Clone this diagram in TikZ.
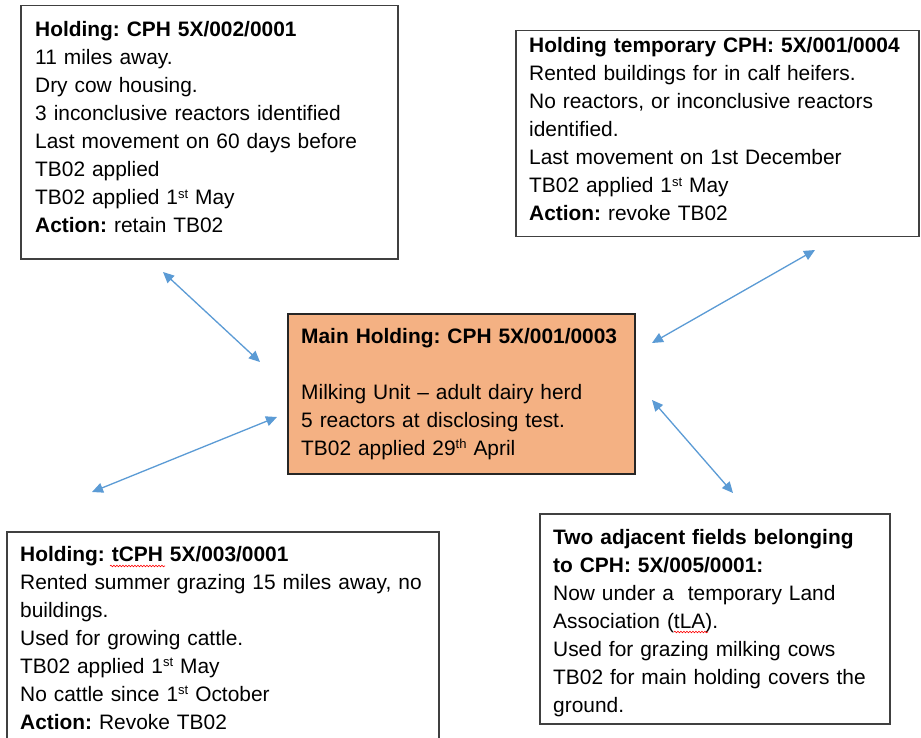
\documentclass[tikz,border=0pt]{standalone}
\usepackage{fontspec}
\setmainfont{Liberation Sans}
\usetikzlibrary{arrows.meta,decorations.pathmorphing}
\definecolor{boxline}{HTML}{404040}
\definecolor{mainfill}{HTML}{F4B183}
\definecolor{arrowblue}{HTML}{5B9BD5}
\newcommand{\sups}[1]{\raisebox{0.55ex}{\fontsize{13}{13}\selectfont #1}}
\tikzset{
  frame/.style={draw=boxline, line width=1.5pt, rectangle, anchor=north west, inner sep=0pt},
  txt/.style={anchor=base west, inner sep=0pt, align=left, text width=470pt,
    font=\fontsize{20.9}{28}\selectfont\frenchspacing},
  link/.style={arrowblue, line width=1.3pt,
    {Triangle[length=11pt,width=10pt]}-{Triangle[length=11pt,width=10pt]}},
  squiggle/.style={red, line width=0.6pt, decorate,
    decoration={snake, amplitude=0.8pt, segment length=3pt}}
}
\begin{document}
\begin{tikzpicture}[x=1pt,y=-1pt]
\clip (0,0) rectangle (921,738);
\fill[white] (0,0) rectangle (921,738);

% boxes
\node[frame, minimum width=377pt, minimum height=253pt] (b1) at (20,5) {};
\node[frame, minimum width=403pt, minimum height=206pt] (b2) at (515,30) {};
\node[frame, draw=black!85, fill=mainfill, minimum width=347pt, minimum height=160pt] (bm) at (287,313) {};
\node[frame, minimum width=432pt, minimum height=220pt] (b4) at (6,531) {};
\node[frame, minimum width=350pt, minimum height=210pt] (b5) at (539,513) {};

% texts
\node[txt] (t1) at (35,37) {\textbf{Holding: CPH 5X/002/0001}\\
11 miles away.\\
Dry cow housing.\\
3 inconclusive reactors identified\\
Last movement on 60 days before\\
TB02 applied\\
TB02 applied 1\sups{st} May\\
\textbf{Action:} retain TB02};

\node[txt] (t2) at (529,53) {\textbf{Holding temporary CPH: 5X/001/0004}\\
Rented buildings for in calf heifers.\\
No reactors, or inconclusive reactors\\
identified.\\
Last movement on 1st December\\
TB02 applied 1\sups{st} May\\
\textbf{Action:} revoke TB02};

\node[txt] (tm) at (301,343) {\textbf{Main Holding: CPH 5X/001/0003}\\
\mbox{}\\
Milking Unit -- adult dairy herd\\
5 reactors at disclosing test.\\
TB02 applied 29\sups{th} April};

\node[txt] (t4) at (20,561) {\textbf{Holding: tCPH 5X/003/0001}\\
Rented summer grazing 15 miles away, no\\
buildings.\\
Used for growing cattle.\\
TB02 applied 1\sups{st} May\\
No cattle since 1\sups{st} October\\
\textbf{Action:} Revoke TB02};

\node[txt] (t5) at (553,544) {\textbf{Two adjacent fields belonging}\\
\textbf{to CPH: 5X/005/0001:}\\
Now under a \ temporary Land\\
Association (tLA).\\
Used for grazing milking cows\\
TB02 for main holding covers the\\
ground.};

% spell-check squiggles
\draw[squiggle] (110,566) -- (165,566);
\draw[squiggle] (674,632) -- (708,632);

% connectors
\coordinate (a1s) at (163,272);
\coordinate (a1e) at (260,362);
\coordinate (a2s) at (277,417);
\coordinate (a2e) at (92,492);
\coordinate (a3s) at (815,250);
\coordinate (a3e) at (652,343);
\coordinate (a4s) at (652,400);
\coordinate (a4e) at (733,493);
\draw[link] (a1s) -- (a1e);
\draw[link] (a2s) -- (a2e);
\draw[link] (a3s) -- (a3e);
\draw[link] (a4s) -- (a4e);
\end{tikzpicture}
\end{document}
